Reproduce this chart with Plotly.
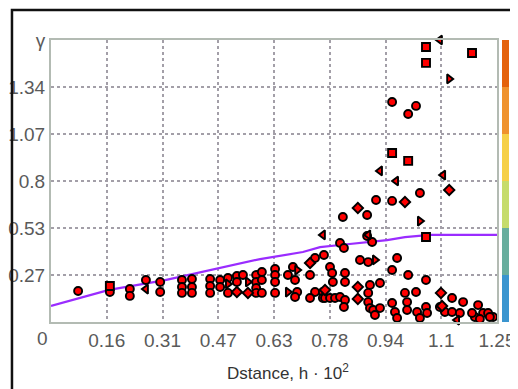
import plotly.graph_objects as go

# ---------------- data ----------------
circle_x = [0.076, 0.165, 0.221, 0.221, 0.266, 0.306, 0.306, 0.367, 0.367, 0.367,
            0.395, 0.395, 0.395, 0.446, 0.446, 0.446, 0.474, 0.474, 0.496, 0.496,
            0.521, 0.521, 0.538, 0.575, 0.575, 0.575, 0.575, 0.591, 0.591, 0.591,
            0.628, 0.628, 0.628, 0.628, 0.664, 0.678, 0.684, 0.690, 0.726, 0.740,
            0.740, 0.762, 0.762, 0.726, 0.684, 0.765, 0.782, 0.788, 0.790, 0.824,
            0.824, 0.810, 0.821, 0.768, 0.782, 0.796, 0.810, 0.824, 0.821, 0.818,
            0.886, 0.900, 0.866, 0.889, 0.894, 0.922, 0.889, 0.889, 0.894, 0.903,
            0.922, 0.908, 0.956, 0.970, 1.001, 1.051, 1.023, 0.992, 0.998, 0.956,
            0.964, 0.970, 0.998, 1.026, 1.034, 1.051, 1.054, 1.124, 1.155, 1.104,
            1.124, 1.146, 1.090, 1.197, 1.188, 1.211, 1.225, 1.239, 1.202, 1.180,
            1.230, 0.886, 0.911, 0.956, 1.034, 0.956, 1.023, 1.001]
circle_y = [0.176, 0.170, 0.187, 0.148, 0.238, 0.227, 0.170, 0.238, 0.199, 0.165,
            0.244, 0.199, 0.165, 0.244, 0.204, 0.165, 0.238, 0.199, 0.250, 0.165,
            0.261, 0.227, 0.267, 0.267, 0.227, 0.193, 0.165, 0.284, 0.238, 0.165,
            0.301, 0.267, 0.227, 0.165, 0.267, 0.312, 0.238, 0.170, 0.267, 0.363,
            0.170, 0.170, 0.136, 0.136, 0.142, 0.380, 0.312, 0.278, 0.227, 0.278,
            0.227, 0.448, 0.420, 0.136, 0.136, 0.136, 0.142, 0.125, 0.085, 0.596,
            0.607, 0.454, 0.352, 0.340, 0.210, 0.221, 0.165, 0.113, 0.079, 0.068,
            0.079, 0.040, 0.295, 0.363, 0.267, 0.238, 0.170, 0.165, 0.113, 0.108,
            0.057, 0.023, 0.068, 0.057, 0.023, 0.085, 0.051, 0.136, 0.113, 0.057,
            0.057, 0.051, 0.085, 0.096, 0.028, 0.051, 0.051, 0.028, 0.017, 0.051,
            0.028, 0.488, 0.692, 0.687, 0.732, 1.248, 1.226, 1.180]

square_x = [0.165, 1.051, 0.956, 1.001, 1.051, 1.051, 1.180]
square_y = [0.204, 0.482, 0.959, 0.914, 1.560, 1.470, 1.526]

tri_left_x = [0.266, 0.762, 0.889, 1.138, 0.922, 0.967, 1.099, 1.090]
tri_left_y = [0.187, 0.494, 0.494, 0.011, 0.857, 0.800, 0.834, 1.600]

tri_right_x = [0.496, 0.552, 0.690, 0.664, 0.908, 1.034, 1.116]
tri_right_y = [0.216, 0.227, 0.295, 0.170, 0.352, 0.573, 1.379]

diamond_x = [0.521, 0.552, 0.726, 0.768, 0.860, 0.860, 0.860, 1.093, 1.096, 0.992, 1.116]
diamond_y = [0.170, 0.165, 0.335, 0.182, 0.647, 0.199, 0.131, 0.165, 0.091, 0.681, 0.749]

curve_x = [0.0, 0.163, 0.320, 0.586, 0.706, 0.754, 0.810, 0.889, 0.942, 0.992, 1.062, 1.25]
curve_y = [0.091, 0.182, 0.238, 0.357, 0.397, 0.425, 0.437, 0.454, 0.465, 0.482, 0.494, 0.494]

x_tick_vals = [1.25 * k / 8 for k in range(1, 9)]
x_tick_text = ["0.16", "0.31", "0.47", "0.63", "0.78", "0.94", "1.1", "1.25"]
y_tick_vals = [1.6 * k / 6 for k in range(1, 7)]
y_tick_text = ["0.27", "0.53", "0.8", "1.07", "1.34", "γ"]

band_colors = ["#3a95cf", "#68ae9e", "#c6dc6c", "#f6d048", "#ef922e", "#e4620c"]

# ---------------- figure ----------------
FONT = "Liberation Sans Narrow, Arial Narrow, Liberation Sans, Arial, sans-serif"
TXT = "#5a5a5a"
FS = 19

fig = go.Figure()

fig.add_trace(go.Scatter(x=curve_x, y=curve_y, mode="lines",
                         line=dict(color="#9a2cff", width=2.2),
                         hoverinfo="skip", showlegend=False))

marker_common = dict(size=8, color="#ff0000", line=dict(color="#000000", width=1.9))
for xs, ys, sym in [(circle_x, circle_y, "circle"),
                    (square_x, square_y, "square"),
                    (tri_left_x, tri_left_y, "triangle-left"),
                    (tri_right_x, tri_right_y, "triangle-right"),
                    (diamond_x, diamond_y, "diamond")]:
    fig.add_trace(go.Scatter(x=xs, y=ys, mode="markers",
                             marker=dict(symbol=sym, **marker_common),
                             showlegend=False, cliponaxis=False))

# discrete colour bar (carrier trace lies outside the visible range)
n = len(band_colors)
cs = []
for i, c in enumerate(band_colors):
    cs.append([i / n, c])
    cs.append([(i + 1) / n, c])
fig.add_trace(go.Scatter(
    x=[-5, -5], y=[-5, -5], mode="markers", showlegend=False, hoverinfo="skip",
    marker=dict(color=[0, n], cmin=0, cmax=n, colorscale=cs, showscale=True, size=1,
                colorbar=dict(x=1.011, xanchor="left", y=0, yanchor="bottom",
                              len=1, lenmode="fraction", thickness=7,
                              outlinewidth=0, xpad=0, ypad=0,
                              showticklabels=False, ticks=""))))

axis_line = "#b3bbb3"
grid_col = "#a39fa8"

fig.update_xaxes(range=[0, 1.25], tickvals=x_tick_vals, ticktext=x_tick_text,
                 showgrid=True, gridcolor=grid_col, griddash="dot", gridwidth=1.6,
                 showline=True, linecolor=axis_line, linewidth=2, mirror=True,
                 zeroline=False, ticks="",
                 tickfont=dict(family=FONT, size=FS, color=TXT))
fig.update_yaxes(range=[0, 1.6], tickvals=y_tick_vals, ticktext=y_tick_text,
                 showgrid=True, gridcolor=grid_col, griddash="dot", gridwidth=1.6,
                 showline=True, linecolor=axis_line, linewidth=2, mirror=True,
                 zeroline=False, ticks="",
                 tickfont=dict(family=FONT, size=FS, color=TXT))

# page body has an 8px margin, so the figure is 8px smaller than the window
fig.update_layout(
    width=510, height=381,
    margin=dict(l=43, r=21, t=32, b=67, autoexpand=False),
    paper_bgcolor="white", plot_bgcolor="white",
    font=dict(family=FONT, color=TXT),
    annotations=[
        dict(text="0", x=-0.02, y=-0.057, xref="paper", yref="paper",
             showarrow=False, xanchor="center", yanchor="middle",
             font=dict(family=FONT, size=FS, color=TXT)),
        dict(text="Dstance, h · 10<sup>2</sup>", x=0.531, y=-0.177,
             xref="paper", yref="paper", showarrow=False,
             xanchor="center", yanchor="middle",
             font=dict(family=FONT, size=17, color="#333333")),
    ],
    shapes=[
        dict(type="rect", xref="paper", yref="paper",
             x0=-0.0875, x1=1.08, y0=-0.3, y1=1.106,
             line=dict(color="#111111", width=2.5), layer="above"),
    ],
)

fig.write_html("out.html")
